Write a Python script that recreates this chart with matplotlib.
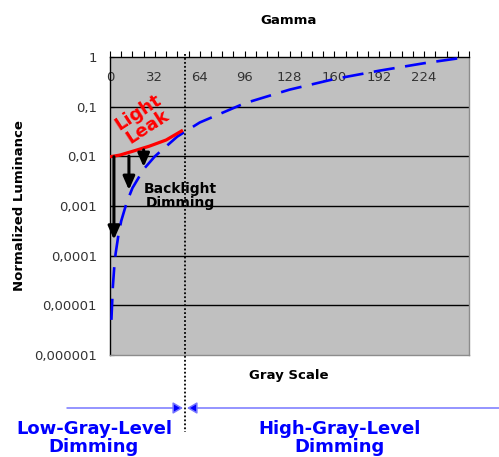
import numpy as np
import matplotlib
matplotlib.use('Agg')
import matplotlib.pyplot as plt
import matplotlib.transforms as mtransforms
from matplotlib.patches import FancyArrowPatch

# ── Data ────────────────────────────────────────────────────────────────────
# gamma curve (normalized luminance vs gray level)
gamma_gray = [1, 2, 3, 4, 6, 8, 12, 16, 24, 32, 48, 64, 96, 128, 160, 192, 224, 255]
gamma_lum  = [5.1e-6, 2.3e-5, 5.7e-5, 1.1e-4, 2.6e-4, 5.0e-4, 1.2e-3, 2.3e-3,
              5.5e-3, 1.0e-2, 2.5e-2, 4.8e-2, 0.117, 0.22, 0.36, 0.53, 0.75, 1.0]

# light leak curve at the low end
leak_gray = [0, 7, 16, 28, 40, 52]
leak_lum  = [0.0098, 0.0106, 0.0126, 0.0160, 0.0213, 0.0336]

# backlight dimming arrows: gray level, start, end
dim_gray  = [2.8, 13.5, 24]
dim_start = [0.0098, 0.0101, 0.0135]
dim_end   = [2.1e-4, 2.1e-3, 6.1e-3]

split_gray = 53.3

xtick_vals = [0, 32, 64, 96, 128, 160, 192, 224]
ytick_vals = [1e-6, 1e-5, 1e-4, 1e-3, 1e-2, 1e-1, 1]
ytick_lbls = ['0,000001', '0,00001', '0,0001', '0,001', '0,01', '0,1', '1']

# ── Figure ──────────────────────────────────────────────────────────────────
W, H = 499, 457
fig = plt.figure(figsize=(W / 100, H / 100), dpi=100)
ax = fig.add_axes([110 / W, 1 - 355 / H, 359 / W, 298 / H])
ax.set_facecolor('#c0c0c0')
ax.set_yscale('log')
ax.set_xlim(0, 256)
ax.set_ylim(1e-6, 1)

for s in ['top', 'left']:
    ax.spines[s].set_color('black')
    ax.spines[s].set_linewidth(1.0)
for s in ['right', 'bottom']:
    ax.spines[s].set_color('#8c8c8c')
    ax.spines[s].set_linewidth(1.0)

ax.xaxis.set_ticks_position('top')
ax.set_xticks(np.arange(0, 257, 8))
ax.set_xticklabels([])
ax.tick_params(axis='x', direction='out', length=4, width=0.8, color='black')
ax.minorticks_off()
ax.set_yticks(ytick_vals)
ax.set_yticklabels(ytick_lbls, fontsize=9.5, color='#333333')
ax.tick_params(axis='y', direction='in', length=3, width=0.8, pad=9.5)
for v in ytick_vals[1:-1]:
    ax.axhline(v, color='black', lw=1.0, zorder=1)

# gray-level labels inside the plot, just under the top edge
xtrans = mtransforms.blended_transform_factory(ax.transData, ax.transAxes)
for v in xtick_vals:
    ax.text(v, 0.932, str(v), transform=xtrans, ha='center', va='center',
            fontsize=9.5, color='#333333', zorder=2)

# curves
ax.plot(gamma_gray, gamma_lum, color='#0000ff', lw=1.9, dashes=(8, 4), zorder=3)
ax.plot(leak_gray, leak_lum, color='#ff0000', lw=2.3, zorder=4, solid_capstyle='butt')

for g, y0, y1 in zip(dim_gray, dim_start, dim_end):
    ax.annotate('', xy=(g, y1), xytext=(g, y0),
                arrowprops=dict(arrowstyle='-|>,head_length=0.8,head_width=0.35',
                                color='black', lw=2.2, shrinkA=0, shrinkB=0),
                zorder=5)

ax.text(23.5, 0.054, 'Light\nLeak', color='#ff0000', fontsize=13, fontweight='bold',
        rotation=33, ha='center', va='center', linespacing=0.95, zorder=6)
ax.text(50, 1.6e-3, 'Backlight\nDimming', color='black', fontsize=10, fontweight='bold',
        ha='center', va='center', linespacing=1.05, zorder=6)

# boundary between low/high gray-level dimming
ax.plot([split_gray, split_gray], [1.01, -0.26], transform=xtrans, color='black',
        lw=1.3, ls=(0, (1, 1.2)), clip_on=False, zorder=6)

# titles
fig.text(289 / W, 1 - 21 / H, 'Gamma', ha='center', va='center',
         fontsize=9.5, fontweight='bold')
fig.text(289 / W, 1 - 376 / H, 'Gray Scale', ha='center', va='center',
         fontsize=9.5, fontweight='bold')
fig.text(20 / W, 1 - 206 / H, 'Normalized Luminance', ha='center', va='center',
         rotation=90, fontsize=9.5, fontweight='bold')

# dimming ranges below the chart
arr_y = 1 - 408 / H
for x0, x1 in [(67, 183), (499, 187)]:
    arr = FancyArrowPatch((x0 / W, arr_y), (x1 / W, arr_y), transform=fig.transFigure,
                          arrowstyle='-|>,head_length=6,head_width=3.5', lw=1.1,
                          shrinkA=0, shrinkB=0, mutation_scale=1)
    arr.set_edgecolor('#7777ff')
    arr.set_facecolor('#0000ff')
    fig.add_artist(arr)

fig.text(94 / W, 1 - 438 / H, 'Low-Gray-Level\nDimming', ha='center', va='center',
         color='#0000ff', fontsize=13, fontweight='bold', linespacing=1.0)
fig.text(340 / W, 1 - 438 / H, 'High-Gray-Level\nDimming', ha='center', va='center',
         color='#0000ff', fontsize=13, fontweight='bold', linespacing=1.0)

fig.savefig('out.png', dpi=100)
